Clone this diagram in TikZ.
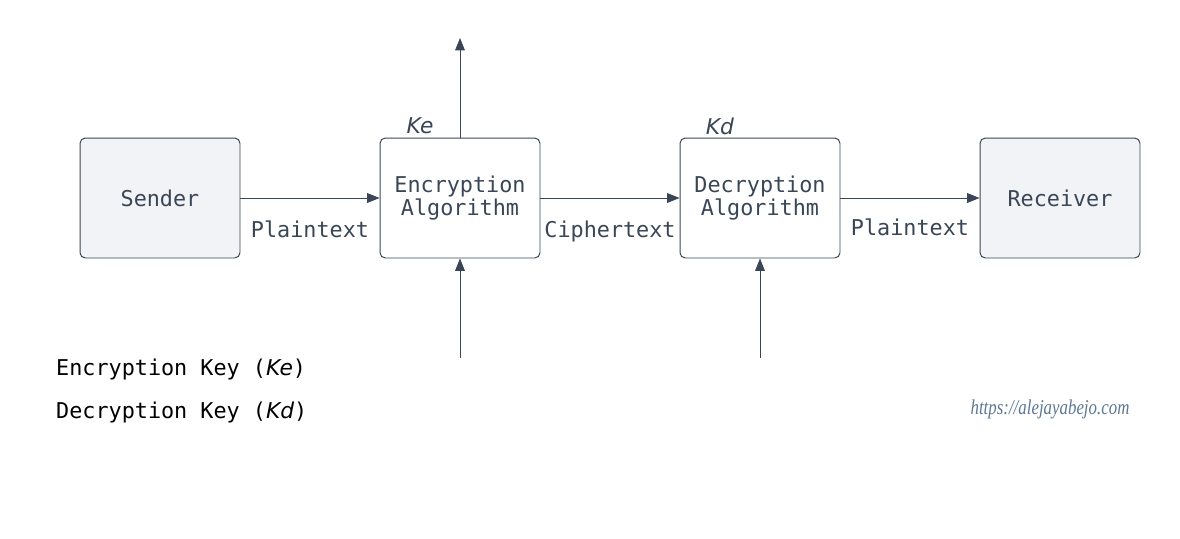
\documentclass[tikz,border=0pt]{standalone}
\usepackage{fontspec}
\setmonofont{DejaVu Sans Mono}
\newfontfamily\keyfont{DejaVu Sans}
\newfontfamily\signfont{Liberation Serif}
\usetikzlibrary{arrows.meta}
\definecolor{slate}{HTML}{3A4656}
\definecolor{boxgray}{HTML}{F1F3F6}
\definecolor{signblue}{HTML}{5B7894}
\newcommand{\kv}[1]{{\keyfont\itshape #1}}
\begin{document}
\begin{tikzpicture}[x=0.02cm,y=-0.02cm,
  block/.style={draw=slate,rounded corners=3pt,minimum width=3.2cm,minimum height=2.4cm,
    align=center,font=\ttfamily\fontsize{12.4}{11.5}\selectfont,text=slate,line width=0.55pt},
  endbox/.style={block,fill=boxgray},
  flow/.style={draw=slate,line width=0.5pt,-{Triangle[length=7pt,width=5.5pt]}},
  lbl/.style={font=\ttfamily\fontsize{12.4}{14}\selectfont,text=slate},
  legend/.style={font=\ttfamily\fontsize{12.4}{14}\selectfont,anchor=west}]
\useasboundingbox (0,0) rectangle (1180,538);

\node[endbox] (sender) at (160,198) {Sender};
\node[block] (encalg) at (460,198) {\raisebox{-2pt}{Encryption}\\Algorithm};
\node[block] (decalg) at (760,198) {\raisebox{-2pt}{Decryption}\\Algorithm};
\node[endbox] (receiver) at (1060,198) {Receiver};

\coordinate (keup) at (460,38);
\coordinate (kein) at (460,358);
\coordinate (kdin) at (760,358);

\draw[flow] (sender) -- (encalg);
\draw[flow] (encalg) -- (decalg);
\draw[flow] (decalg) -- (receiver);
\draw[flow] (encalg.north) -- (keup);
\draw[flow] (kein) -- (encalg.south);
\draw[flow] (kdin) -- (decalg.south);

\node[lbl] (pt1) at (310,229) {Plaintext};
\node[lbl] (ct) at (610,231) {Ciphertext};
\node[lbl] (pt2) at (910,227) {Plaintext};
\node[text=slate,font=\fontsize{12.4}{14}\selectfont] (ke) at (420,126) {\kv{Ke}};
\node[text=slate,font=\fontsize{12.4}{14}\selectfont] (kd) at (720,126) {\kv{Kd}};

% legend
\node[legend] (enckey) at (50,369) {Encryption Key (\kv{Ke})};
\node[legend] (deckey) at (50,412) {Decryption Key (\kv{Kd})};

\node[text=signblue,font=\signfont\itshape\fontsize{12}{12}\selectfont,xscale=0.8] (sign) at (1050,409) {https://alejayabejo.com};
\end{tikzpicture}
\end{document}
